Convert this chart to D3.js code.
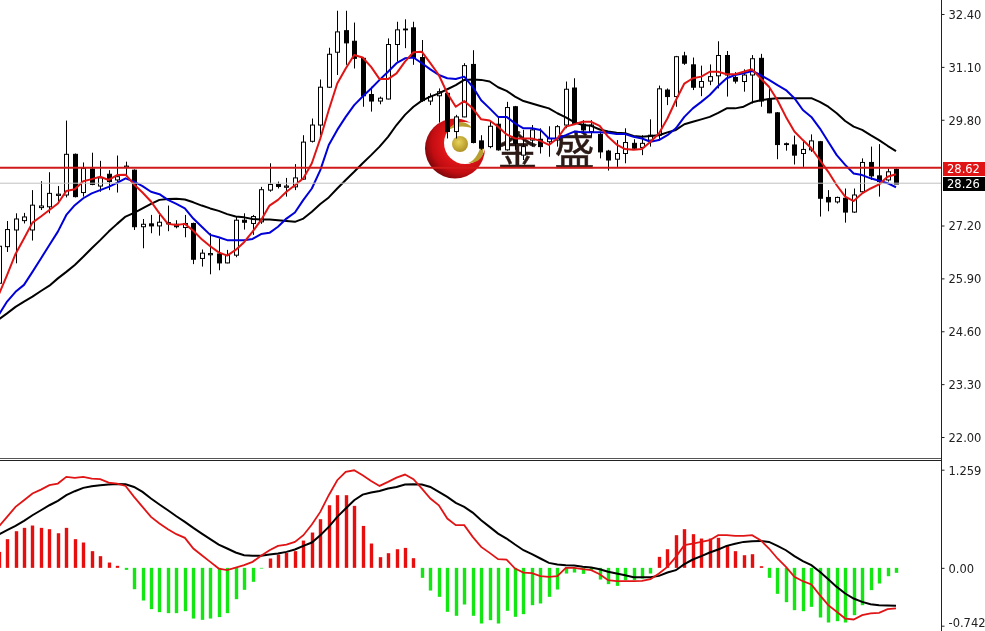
<!DOCTYPE html>
<html><head><meta charset="utf-8">
<script src="https://cdn.jsdelivr.net/npm/d3@7"></script>
<style>html,body{margin:0;padding:0;background:#fff;overflow:hidden}svg{display:block;filter:blur(0.3px)}</style>
</head><body><div id="chart"></div>
<script>
const priceTicks=[32.40,31.10,29.80,27.20,25.90,24.60,23.30,22.00];
const macdTicks=[1.259,0.00,-0.742];
const macdTickLabels=["1.259","0.00","-0.742"];
const bidPrice=28.62, lastPrice=28.24;
const bidLabel="28.62", lastLabel="28.26";
const watermark=["金","盛"];
const highs=[26.72,27.31,27.50,27.51,28.07,28.29,28.51,28.17,29.78,28.97,28.75,28.99,28.79,28.56,28.92,28.77,28.58,27.36,27.46,27.46,27.69,27.33,27.46,27.27,26.61,27.01,26.88,26.60,27.42,27.50,27.46,28.15,28.73,28.28,28.37,28.71,29.42,29.83,30.79,31.57,32.48,32.48,32.19,31.33,30.61,30.37,31.80,32.21,32.27,32.21,31.76,30.45,30.57,30.47,29.92,31.19,31.51,29.42,29.75,29.87,30.24,30.14,29.55,29.67,29.59,29.64,29.67,30.74,30.82,29.79,29.79,29.51,29.06,29.30,29.59,29.32,29.42,29.81,30.64,30.57,31.37,31.47,31.33,31.13,31.16,31.73,31.49,30.97,31.04,31.39,31.42,30.57,29.99,29.24,29.41,29.30,29.44,29.28,28.07,27.91,28.11,28.11,28.85,29.14,29.20,28.60,28.60];
const lows=[25.75,26.55,26.27,27.25,26.83,27.58,27.50,27.79,27.89,27.89,27.91,28.19,28.03,28.07,28.01,28.40,27.09,26.64,27.01,26.95,27.06,27.13,26.91,26.25,26.19,26.00,26.10,26.27,26.42,27.10,26.97,27.24,28.03,28.11,27.91,28.07,28.32,29.24,29.42,30.58,30.90,31.15,31.06,30.12,30.00,30.18,30.30,31.23,31.56,31.15,30.24,30.16,29.73,29.34,29.34,29.86,29.22,29.06,29.10,29.04,29.04,29.06,28.81,29.14,28.97,28.89,29.14,29.59,29.67,29.46,29.38,28.85,28.55,28.64,28.73,29.06,28.93,29.14,29.30,30.16,30.12,31.15,30.53,30.38,30.65,30.57,30.37,30.69,30.49,30.20,30.12,29.96,28.83,29.04,28.70,28.64,29.01,27.42,27.55,27.74,27.27,27.51,27.99,28.32,27.91,28.28,28.22];
const opens=[25.78,26.68,27.09,27.32,27.09,27.64,27.66,27.94,27.95,28.95,28.01,28.59,28.17,28.46,28.32,28.63,28.56,27.17,27.24,27.19,27.24,27.23,27.15,27.25,26.39,26.48,26.50,26.28,26.47,27.33,27.25,27.29,28.07,28.21,28.14,28.15,28.34,29.27,29.67,30.60,31.46,31.99,31.73,31.31,30.42,30.26,30.31,31.65,32.01,32.06,31.33,30.26,30.39,30.45,29.51,29.87,31.16,29.28,29.14,29.69,29.06,30.12,28.93,29.30,29.32,29.26,29.30,29.67,30.58,29.69,29.51,29.44,29.03,28.83,28.97,29.22,29.12,29.30,29.42,30.53,30.37,31.37,31.15,30.60,30.75,30.88,31.38,30.84,30.74,30.90,31.31,30.30,29.97,29.21,29.18,28.97,29.06,29.26,27.89,27.78,27.87,27.53,28.03,28.75,28.42,28.32,28.58];
const closes=[26.69,27.10,27.36,27.41,27.70,27.68,27.99,27.97,28.95,27.91,28.60,28.21,28.37,28.28,28.40,28.66,27.17,27.23,27.19,27.28,27.27,27.17,27.25,26.37,26.52,26.51,26.28,26.47,27.33,27.28,27.42,28.08,28.21,28.16,28.17,28.37,29.25,29.67,30.60,31.41,31.96,31.69,31.31,30.39,30.26,30.33,31.65,32.01,32.03,31.33,30.27,30.37,30.49,29.51,29.87,31.13,29.24,29.10,29.64,29.06,30.10,29.22,29.14,29.55,29.14,29.34,29.63,30.55,29.71,29.55,29.67,29.01,28.81,28.97,29.24,29.10,29.22,29.42,30.56,30.37,31.35,31.19,30.60,30.74,30.86,31.38,30.90,30.75,30.90,31.30,30.26,29.97,29.19,29.19,28.93,29.07,29.28,27.87,27.78,27.89,27.53,27.95,28.75,28.42,28.28,28.52,28.22];
const maFast=[25.49,25.98,26.50,26.88,27.27,27.42,27.58,27.74,28.05,28.09,28.29,28.34,28.40,28.32,28.44,28.45,28.21,28.01,27.79,27.50,27.24,27.21,27.24,27.07,26.86,26.69,26.54,26.46,26.60,26.79,27.05,27.33,27.69,27.83,28.03,28.19,28.36,28.73,29.34,30.04,30.69,31.06,31.39,31.33,31.10,30.80,30.80,30.94,31.23,31.46,31.47,31.19,30.90,30.45,30.12,30.26,30.08,29.81,29.78,29.63,29.44,29.34,29.34,29.34,29.28,29.18,29.34,29.63,29.69,29.75,29.75,29.65,29.38,29.19,29.08,29.06,29.08,29.26,29.46,29.83,30.28,30.69,30.82,30.86,30.98,30.98,30.92,30.92,30.98,31.04,30.82,30.61,30.28,29.87,29.51,29.30,29.10,28.81,28.52,28.19,27.91,27.80,27.99,28.11,28.21,28.40,28.46];
const maMid=[25.00,25.33,25.57,25.74,26.06,26.39,26.72,27.05,27.46,27.70,27.87,27.99,28.07,28.15,28.25,28.36,28.28,28.17,28.03,27.97,27.83,27.73,27.62,27.37,27.17,26.97,26.91,26.84,26.84,26.84,26.87,26.99,27.02,27.17,27.37,27.52,27.83,28.11,28.56,29.18,29.55,29.87,30.16,30.37,30.57,30.78,30.98,31.19,31.31,31.33,31.19,31.04,30.90,30.82,30.80,30.86,30.61,30.28,30.08,29.87,29.87,29.71,29.59,29.59,29.55,29.34,29.34,29.42,29.51,29.49,29.49,29.49,29.48,29.45,29.45,29.38,29.34,29.26,29.30,29.42,29.59,29.87,30.08,30.24,30.41,30.63,30.82,30.90,30.94,31.00,30.90,30.78,30.65,30.53,30.33,30.04,29.87,29.59,29.26,28.93,28.69,28.48,28.44,28.36,28.30,28.24,28.14];
const maSlow=[24.89,25.04,25.20,25.33,25.45,25.59,25.72,25.90,26.06,26.23,26.43,26.64,26.84,27.05,27.24,27.42,27.51,27.62,27.73,27.83,27.85,27.86,27.84,27.77,27.69,27.62,27.56,27.48,27.42,27.40,27.36,27.35,27.35,27.33,27.31,27.29,27.37,27.54,27.73,27.89,28.11,28.32,28.52,28.73,28.93,29.14,29.38,29.67,29.92,30.12,30.27,30.37,30.45,30.55,30.65,30.78,30.79,30.78,30.74,30.60,30.51,30.37,30.26,30.20,30.14,30.08,29.96,29.86,29.74,29.67,29.65,29.56,29.51,29.48,29.47,29.40,29.38,29.40,29.42,29.49,29.55,29.69,29.75,29.81,29.87,29.97,30.08,30.08,30.12,30.23,30.28,30.31,30.33,30.33,30.33,30.33,30.33,30.24,30.12,29.96,29.77,29.63,29.55,29.42,29.30,29.16,29.03];
const macdHist=[.205,.368,.470,.513,.543,.513,.496,.444,.513,.368,.325,.214,.150,.068,.026,-.026,-.274,-.419,-.530,-.568,-.581,-.581,-.556,-.650,-.667,-.650,-.632,-.581,-.402,-.282,-.179,-.009,.120,.171,.192,.214,.350,.453,.624,.803,.932,.932,.795,.538,.312,.137,.188,.239,.256,.124,-.128,-.291,-.372,-.564,-.615,-.470,-.615,-.714,-.671,-.714,-.551,-.628,-.594,-.479,-.457,-.372,-.278,-.073,-.060,-.077,-.030,-.150,-.209,-.231,-.158,-.158,-.137,-.073,.141,.239,.419,.496,.432,.376,.376,.385,.291,.214,.162,.175,.021,-.128,-.333,-.440,-.543,-.556,-.500,-.637,-.701,-.684,-.701,-.607,-.479,-.286,-.201,-.107,-.064];
const macdFast=[.526,.654,.782,.868,.953,1.004,1.060,1.081,1.167,1.154,1.167,1.145,1.137,1.094,1.081,1.051,.910,.782,.654,.568,.496,.432,.385,.248,.162,.077,-.009,-.030,.004,.034,.077,.154,.226,.282,.299,.333,.419,.556,.718,.932,1.124,1.231,1.252,1.188,1.115,1.051,1.103,1.158,1.197,1.137,1.017,.889,.803,.632,.547,.547,.397,.269,.192,.111,.107,-.009,-.060,-.068,-.107,-.115,-.107,0,0,-.017,-.030,-.081,-.158,-.171,-.171,-.171,-.167,-.145,-.073,.013,.141,.291,.312,.333,.355,.419,.419,.410,.410,.419,.355,.248,.120,.013,-.115,-.171,-.214,-.350,-.479,-.564,-.650,-.662,-.607,-.585,-.577,-.530,-.521];
const macdSlow=[.427,.483,.538,.603,.675,.739,.803,.859,.932,.983,1.026,1.047,1.060,1.068,1.077,1.073,1.038,.974,.889,.812,.739,.662,.590,.513,.440,.368,.299,.248,.197,.162,.154,.154,.171,.184,.205,.235,.282,.325,.419,.526,.654,.761,.868,.940,.966,.987,1.017,1.038,1.068,1.073,1.068,1.038,.974,.910,.833,.782,.709,.611,.526,.440,.376,.299,.226,.175,.120,.064,.043,.034,.030,.013,.004,-.017,-.051,-.073,-.094,-.120,-.120,-.120,-.103,-.060,-.030,.047,.107,.150,.197,.235,.282,.308,.333,.342,.346,.333,.282,.226,.150,.085,.034,-.051,-.145,-.244,-.329,-.393,-.436,-.466,-.479,-.483,-.487];

const W=985,H=631,axisX=941.5;
const svg=d3.select("#chart").append("svg").attr("width",W).attr("height",H).attr("viewBox",`0 0 ${W} ${H}`);
svg.append("rect").attr("width",W).attr("height",H).attr("fill","#fff");
const x=d3.scaleLinear().domain([0,opens.length-1]).range([-1.4,896]);
const y=d3.scaleLinear().domain([22,32.4]).range([437,14]);
const ym=d3.scaleLinear().domain([-0.742,1.259]).range([625.7,469.7]);
const defs=svg.append("defs");
const rg=defs.append("radialGradient").attr("id","crescentFill").attr("cx","0.62").attr("cy","0.4").attr("r","0.68");
rg.append("stop").attr("offset","0.35").attr("stop-color","#ee1a1c");
rg.append("stop").attr("offset","0.75").attr("stop-color","#c20d12");
rg.append("stop").attr("offset","1").attr("stop-color","#6e0508");
const gg=defs.append("radialGradient").attr("id","goldFill").attr("cx","0.42").attr("cy","0.38").attr("r","0.7");
gg.append("stop").attr("offset","0").attr("stop-color","#e8d35a");
gg.append("stop").attr("offset","1").attr("stop-color","#a88a1e");
const m=defs.append("mask").attr("id","crescentMask");
m.append("rect").attr("x",400).attr("y",90).attr("width",120).attr("height",120).attr("fill","#fff");
m.append("circle").attr("cx",465).attr("cy",143).attr("r",21).attr("fill","#000");

// watermark
const logo=svg.append("g");
logo.append("circle").attr("cx",455).attr("cy",148.5).attr("r",30).attr("fill","url(#crescentFill)").attr("mask","url(#crescentMask)");
logo.append("circle").attr("cx",460).attr("cy",144).attr("r",8).attr("fill","url(#goldFill)");
logo.append("path").attr("d","M448,130 C454,121 466,119 472,128 C464,125.5 456,126 448,130 Z").attr("fill","#b8a030");
logo.append("path").attr("d","M468,163 C476,160 479,152 482,143 C486,153 482,163 468,163 Z").attr("fill","#b8a030");
logo.selectAll("text").data(watermark).join("text").attr("x",(d,i)=>i?574.5:517.5).attr("y",165)
 .attr("text-anchor","middle").attr("font-family","'Noto Sans CJK SC'").attr("font-size",40).attr("font-weight",400).attr("fill","#2b1a15").attr("stroke","#2b1a15").attr("stroke-width",.5).text(d=>d);

// candles
const idx=d3.range(opens.length);
const bw=2;
svg.append("g").selectAll("line").data(idx).join("line")
 .attr("x1",d=>Math.round(x(d))+.5).attr("x2",d=>Math.round(x(d))+.5)
 .attr("y1",d=>y(highs[d])).attr("y2",d=>y(lows[d])).attr("stroke","#000").attr("stroke-width",1);
svg.append("g").selectAll("rect").data(idx).join("rect")
 .attr("x",d=>Math.round(x(d))+.5-bw).attr("width",bw*2)
 .attr("y",d=>y(Math.max(opens[d],closes[d])))
 .attr("height",d=>Math.max(.5,Math.abs(y(opens[d])-y(closes[d]))))
 .attr("fill",d=>closes[d]>=opens[d]?"#fff":"#000").attr("stroke","#000").attr("stroke-width",1);

// moving averages
const line=d3.line().x((d,i)=>x(i)).y(d=>y(d));
[[maSlow,"#000"],[maMid,"#0000d8"],[maFast,"#e01414"]].forEach(([s,c])=>{
 svg.append("path").attr("d",line(s)).attr("fill","none").attr("stroke",c).attr("stroke-width",2).attr("stroke-linejoin","round");
});

// price lines
svg.append("line").attr("x1",0).attr("x2",axisX).attr("y1",y(lastPrice)).attr("y2",y(lastPrice)).attr("stroke","#c0c0c0").attr("stroke-width",1);
svg.append("line").attr("x1",0).attr("x2",axisX).attr("y1",y(bidPrice)).attr("y2",y(bidPrice)).attr("stroke","#d01a1a").attr("stroke-width",2);

// MACD panel
svg.append("g").selectAll("rect").data(idx).join("rect")
 .attr("x",d=>Math.round(x(d))-1.2).attr("width",3.4)
 .attr("y",d=>Math.min(ym(0),ym(macdHist[d])))
 .attr("height",d=>Math.abs(ym(macdHist[d])-ym(0)))
 .attr("fill",d=>macdHist[d]>=0?"#e60f0f":"#14e614");
const lineM=d3.line().x((d,i)=>x(i)).y(d=>ym(d));
svg.append("path").attr("d",lineM(macdSlow)).attr("fill","none").attr("stroke","#000").attr("stroke-width",2);
svg.append("path").attr("d",lineM(macdFast)).attr("fill","none").attr("stroke","#e01414").attr("stroke-width",1.8);

// frame
svg.append("line").attr("x1",0).attr("x2",axisX).attr("y1",458.5).attr("y2",458.5).attr("stroke","#555");
svg.append("line").attr("x1",0).attr("x2",axisX).attr("y1",460.5).attr("y2",460.5).attr("stroke","#222");
svg.append("line").attr("x1",axisX).attr("x2",axisX).attr("y1",0).attr("y2",H).attr("stroke","#222");

// axes
const font="'DejaVu Sans'";
const ap=svg.append("g").attr("transform",`translate(${axisX},0)`)
 .call(d3.axisRight(y).tickValues(priceTicks).tickFormat(d3.format(".2f")).tickSize(3).tickPadding(4));
const am=svg.append("g").attr("transform",`translate(${axisX},0)`)
 .call(d3.axisRight(ym).tickValues(macdTicks).tickFormat((d,i)=>macdTickLabels[i]).tickSize(3).tickPadding(4));
[ap,am].forEach(a=>{a.select(".domain").remove();a.selectAll("line").attr("stroke","#222");
 a.selectAll("text").attr("font-family",font).attr("font-size",11.5).attr("fill","#222").attr("dy","0.38em");});
am.selectAll("text").filter((d)=>d<-0.5).attr("dy","0.1em");

// price tags
[[bidPrice,bidLabel,"#e01414",169],[lastPrice,lastLabel,"#000",184]].forEach(([v,t,c,cy])=>{
 svg.append("rect").attr("x",943).attr("y",cy-7).attr("width",42).attr("height",14).attr("fill",c);
 svg.append("text").attr("x",947).attr("y",cy).attr("dy",".36em").attr("font-family",font).attr("font-size",11.5).attr("fill","#fff").text(t);
});
</script></body></html>
